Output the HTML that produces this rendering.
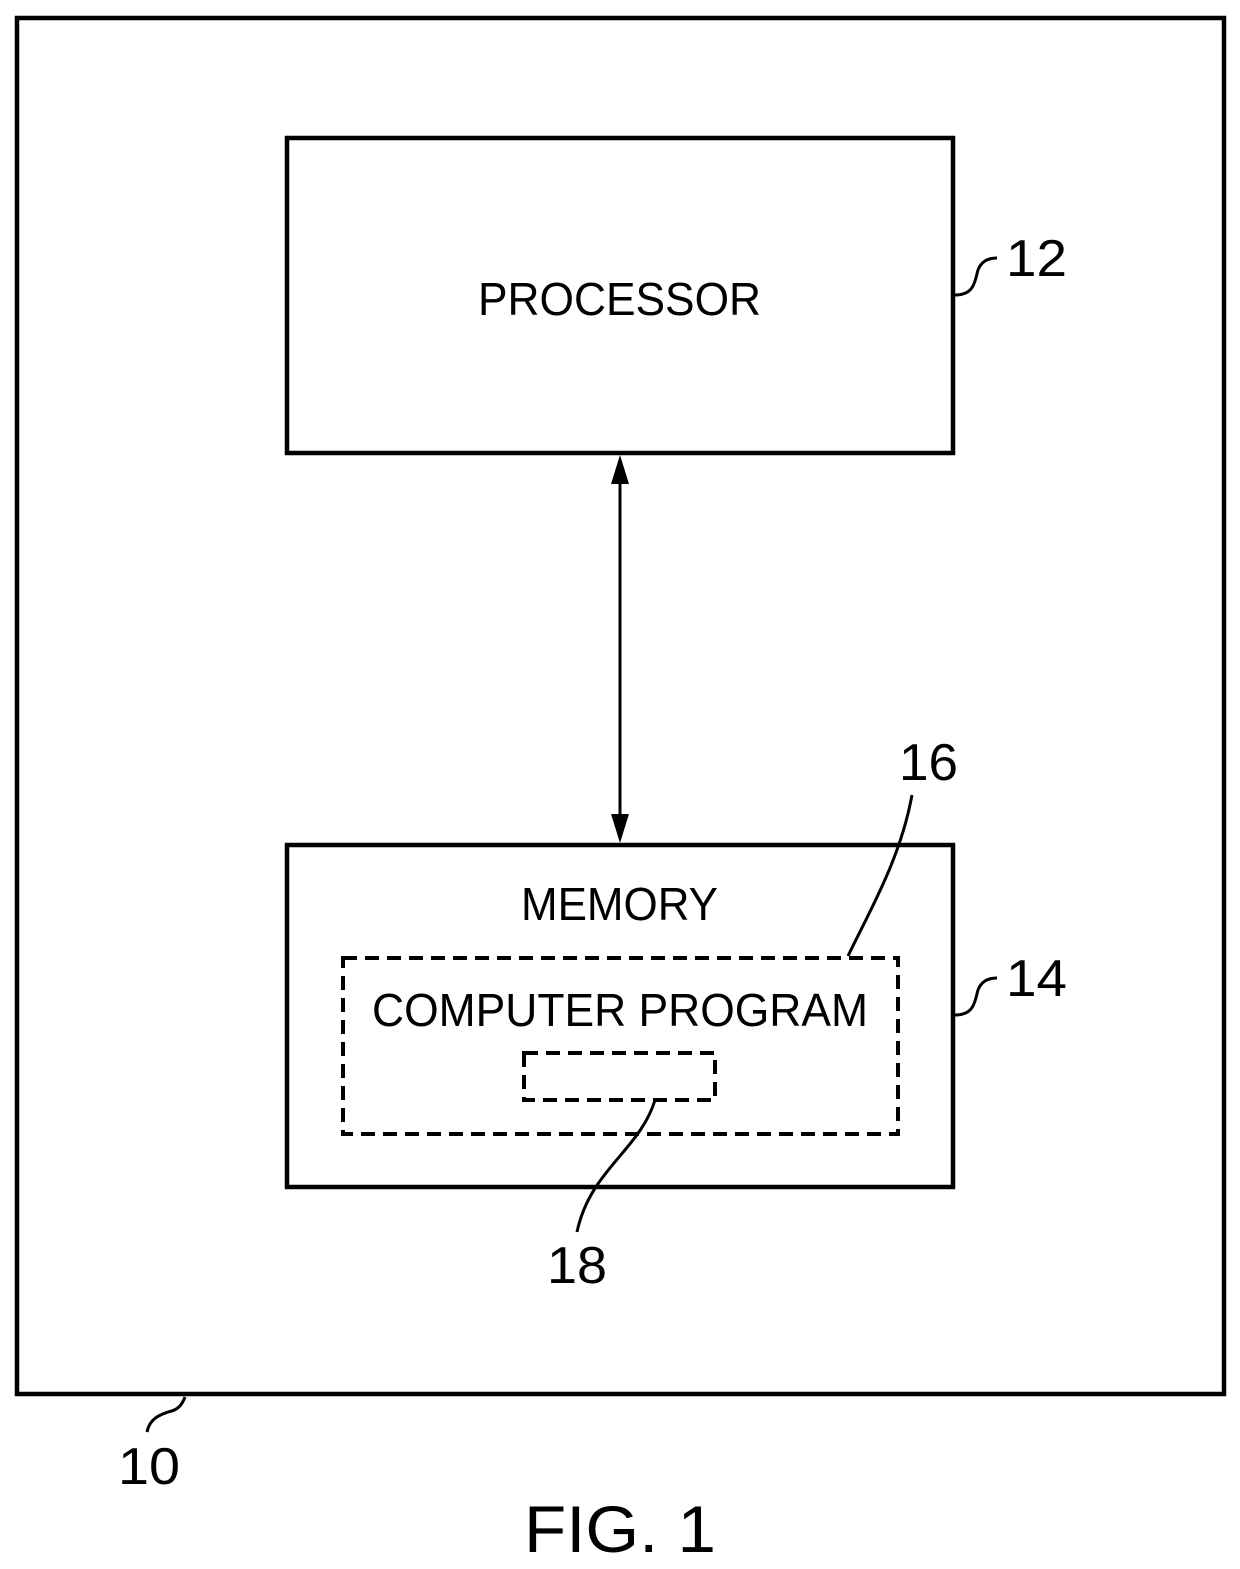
<!DOCTYPE html>
<html><head><meta charset="utf-8"><style>html,body{margin:0;padding:0;background:#fff}svg{display:block}</style></head>
<body>
<svg width="1240" height="1569" viewBox="0 0 1240 1569" xmlns="http://www.w3.org/2000/svg" font-family="Liberation Sans, Arial, sans-serif" fill="none" stroke="#000">
<rect x="17" y="18" width="1207" height="1376" stroke-width="4.5"/>
<rect x="287" y="138" width="666" height="315" stroke-width="4.5"/>
<rect x="287" y="845" width="666" height="342" stroke-width="4.5"/>
<rect x="343" y="958" width="555" height="176" stroke-width="4" stroke-dasharray="14 8"/>
<rect x="524" y="1053" width="191" height="47" stroke-width="4" stroke-dasharray="14 8"/>
<line x1="620" y1="470" x2="620" y2="828" stroke-width="3"/>
<polygon points="620,455 611,484 629,484" fill="#000" stroke="none"/>
<polygon points="620,843 611,814 629,814" fill="#000" stroke="none"/>
<path d="M955 295 C975 295 975 280 978 270 C981 262 987 258 997 258" stroke-width="3"/>
<path d="M955 1015 C975 1015 975 1000 978 990 C981 982 987 978 997 978" stroke-width="3"/>
<path d="M848 956 C870 910 900 860 912 795" stroke-width="3"/>
<path d="M655 1100 C640 1150 590 1170 577 1232" stroke-width="3"/>
<path d="M147 1432 C150 1418 160 1415 168 1412 C178 1410 182 1405 185 1397" stroke-width="3"/>
<g fill="#000" stroke="none">
<text x="478" y="315" font-size="46" textLength="283" lengthAdjust="spacingAndGlyphs">PROCESSOR</text>
<text x="521" y="920" font-size="46" textLength="197" lengthAdjust="spacingAndGlyphs">MEMORY</text>
<text x="372" y="1026" font-size="46" textLength="496" lengthAdjust="spacingAndGlyphs">COMPUTER PROGRAM</text>
<text x="1006" y="276" font-size="52" textLength="61" lengthAdjust="spacingAndGlyphs">12</text>
<text x="1006" y="996" font-size="52" textLength="61" lengthAdjust="spacingAndGlyphs">14</text>
<text x="899" y="780" font-size="52" textLength="59" lengthAdjust="spacingAndGlyphs">16</text>
<text x="547" y="1283" font-size="52" textLength="60" lengthAdjust="spacingAndGlyphs">18</text>
<text x="118" y="1484" font-size="52" textLength="62" lengthAdjust="spacingAndGlyphs">10</text>
<text x="524" y="1552" font-size="66" textLength="192" lengthAdjust="spacingAndGlyphs">FIG. 1</text>
</g>
</svg>
</body></html>
